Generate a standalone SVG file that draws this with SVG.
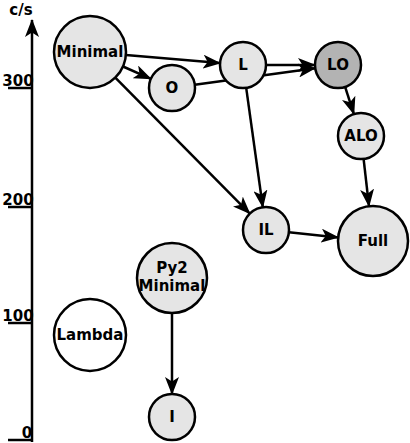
<svg xmlns="http://www.w3.org/2000/svg" width="410" height="443" viewBox="0 0 410 443">
<defs>
<marker id="ah" viewBox="0 0 18 14" refX="17" refY="7" markerWidth="18" markerHeight="14" markerUnits="userSpaceOnUse" orient="auto">
<path d="M0,0 L18,7 L0,14 L4.5,7 z" fill="#000"/>
</marker>
<style>
.n{fill:#e5e5e5;stroke:#000;stroke-width:2.5}
.w{fill:#fff;stroke:#000;stroke-width:2.5}
.d{fill:#b3b3b3;stroke:#000;stroke-width:2.5}
.t{font-family:"DejaVu Sans",sans-serif;font-weight:bold;font-size:15px;text-anchor:middle;fill:#000}
.e{stroke:#000;stroke-width:2.5;fill:none;marker-end:url(#ah)}
.ax{stroke:#000;stroke-width:2.5;fill:none}
</style>
</defs>
<rect width="410" height="443" fill="#fff"/>
<g id="axis">
<line class="ax" x1="32" y1="442" x2="32" y2="20" marker-end="url(#ah)"/>
<line class="ax" x1="8" y1="88" x2="32" y2="88"/>
<line class="ax" x1="8" y1="207" x2="32" y2="207"/>
<line class="ax" x1="8" y1="323" x2="32" y2="323"/>
<line class="ax" x1="8" y1="440" x2="32" y2="440"/>
<text class="t" x="21" y="15">c/s</text>
<text class="t" x="18" y="86">300</text>
<text class="t" x="18" y="205">200</text>
<text class="t" x="18" y="321">100</text>
<text class="t" x="27" y="438">0</text>
</g>
<g id="connectors">
<line class="e" x1="125.9" y1="55.1" x2="220.1" y2="63.1"/>
<line class="e" x1="123" y1="66.5" x2="150.9" y2="78.8"/>
<line class="e" x1="115.3" y1="77.6" x2="249.8" y2="213.6"/>
<line class="e" x1="194.8" y1="84.8" x2="315.2" y2="68.2"/>
<line class="e" x1="266" y1="65" x2="315" y2="65"/>
<line class="e" x1="246.2" y1="87.8" x2="262.8" y2="207.2"/>
<line class="e" x1="345.1" y1="86.9" x2="353.9" y2="114.1"/>
<line class="e" x1="363.6" y1="158.8" x2="369" y2="206.2"/>
<line class="e" x1="288.9" y1="232.3" x2="338.2" y2="237.4"/>
<line class="e" x1="172" y1="313" x2="172" y2="394"/>
</g>
<g id="Minimal"><circle class="n" cx="90" cy="52" r="36"/><text class="t" x="90" y="57">Minimal</text></g>
<g id="O"><circle class="n" cx="172" cy="88" r="23"/><text class="t" x="172" y="93">O</text></g>
<g id="L"><circle class="n" cx="243" cy="65" r="23"/><text class="t" x="243" y="70">L</text></g>
<g id="LO"><circle class="d" cx="338" cy="65" r="23"/><text class="t" x="338" y="70">LO</text></g>
<g id="ALO"><circle class="n" cx="361" cy="136" r="23"/><text class="t" x="361" y="141">ALO</text></g>
<g id="IL"><circle class="n" cx="266" cy="230" r="23"/><text class="t" x="266" y="235">IL</text></g>
<g id="Full"><circle class="n" cx="373" cy="241" r="35"/><text class="t" x="373" y="246">Full</text></g>
<g id="Py2Minimal"><circle class="n" cx="172" cy="278" r="35"/><text class="t" x="172" y="273">Py2</text><text class="t" x="172" y="291">Minimal</text></g>
<g id="Lambda"><circle class="w" cx="90" cy="335" r="36"/><text class="t" x="90" y="340">Lambda</text></g>
<g id="I"><circle class="n" cx="172" cy="417" r="23"/><text class="t" x="172" y="422">I</text></g>
</svg>
